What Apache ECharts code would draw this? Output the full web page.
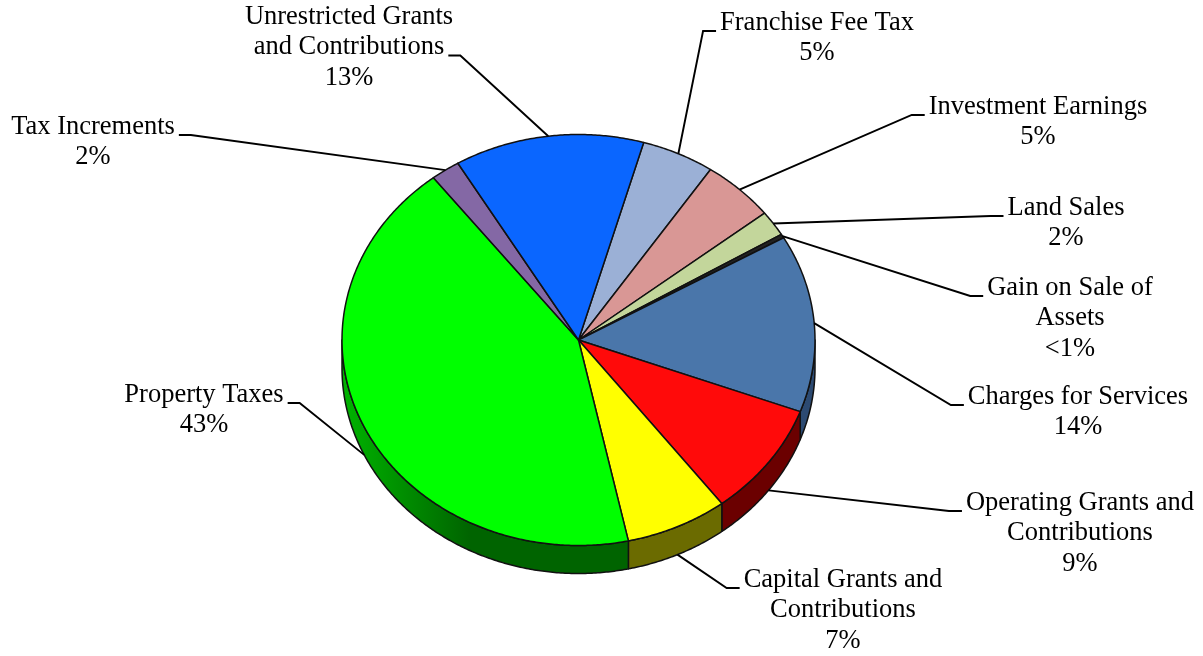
<!DOCTYPE html>
<html>
<head>
<meta charset="utf-8">
<title>Revenues by Source</title>
<script src="https://cdn.jsdelivr.net/npm/echarts@6/dist/echarts.min.js"></script>
<style>
  html, body { margin: 0; padding: 0; background: #ffffff; }
  #chart { width: 1203px; height: 656px; }
</style>
</head>
<body>
<div id="chart"></div>
<script>
// Revenue sources, listed clockwise starting from the Franchise Fee Tax wedge
const categories = [
  'Franchise Fee Tax', 'Investment Earnings', 'Land Sales', 'Gain on Sale of Assets',
  'Charges for Services', 'Operating Grants and Contributions', 'Capital Grants and Contributions',
  'Property Taxes', 'Tax Increments', 'Unrestricted Grants and Contributions'
];
// How each category name is broken over lines in its label
const labelLines = [
  ['Franchise Fee Tax'], ['Investment Earnings'], ['Land Sales'], ['Gain on Sale of', 'Assets'],
  ['Charges for Services'], ['Operating Grants and', 'Contributions'], ['Capital Grants and', 'Contributions'],
  ['Property Taxes'], ['Tax Increments'], ['Unrestricted Grants', 'and Contributions']
];
// Share of total revenue, percent
const shares = [5, 5, 2, 0.3, 14, 9, 7, 43, 2, 13];

// Top-face and side-wall colours per wedge
const faceColors = ['#9bb0d6', '#d99795', '#c3d69b', '#222222', '#4a76aa', '#ff0a0a', '#ffff00', '#00ff00', '#8468a5', '#0a66ff'];
const wallColors = ['#5a6e8f', '#8f5b5a', '#7c8c5c', '#111111', '#2c4a72', '#6b0000', '#6b6b00',
  { type: 'linear', x: 342, y: 0, x2: 470, y2: 0, global: true,
    colorStops: [{ offset: 0, color: '#00b400' }, { offset: 1, color: '#006400' }] },
  '#4e3b66', '#06409f'];

// Tilted pie geometry (pixels) and where the first wedge begins (degrees clockwise from 12 o'clock)
const pie = { cx: 578.5, cy: 340, rx: 236.5, ry: 205.5, depth: 28, startDeg: 16 };
// Label placement: centre x of the text block, centre y of its first line, line the leader meets
const labelPlace = [
  [817, 23, 0], [1038, 107, 0], [1066, 208, 0], [1070, 288, 0], [1078, 397, 0],
  [1080, 503, 0], [843, 580, 0], [204, 395, 0], [93, 127, 0], [349, 17, 1]
];
const FONT = '26.5px "Liberation Serif", "Times New Roman", serif';
const LINE_H = 30.5;

const total = shares.reduce((a, b) => a + b, 0);
const spans = shares.map(v => v / total * 360);
const starts = [];
spans.reduce((acc, s) => { starts.push(acc); return acc + s; }, pie.startDeg);

const measureCtx = document.createElement('canvas').getContext('2d');
measureCtx.font = FONT;
const textWidth = t => measureCtx.measureText(t).width;

function pt(deg, dy) {
  const r = deg * Math.PI / 180;
  return [pie.cx + pie.rx * Math.sin(r), pie.cy - pie.ry * Math.cos(r) + (dy || 0)];
}
function arc(d0, d1, dy) {
  const n = Math.max(2, Math.ceil(Math.abs(d1 - d0) / 0.5));
  const out = [];
  for (let i = 0; i <= n; i++) out.push(pt(d0 + (d1 - d0) * i / n, dy));
  return out;
}
const pctText = v => (v < 1 ? '<1%' : Math.round(v) + '%');

function renderItem(params, api) {
  const i = params.dataIndex;
  const value = api.value(0);
  const d0 = starts[i], d1 = d0 + spans[i];
  const children = [];

  // visible side wall (front half of the disc)
  const w0 = Math.max(d0, 90), w1 = Math.min(d1, 270);
  if (w1 > w0) {
    children.push({
      type: 'polygon', z2: 1,
      shape: { points: arc(w0, w1, 0).concat(arc(w1, w0, pie.depth)) },
      style: { fill: wallColors[i], stroke: '#111', lineWidth: 1.5, lineJoin: 'round' }
    });
  }
  // top face
  children.push({
    type: 'polygon', z2: 2,
    shape: { points: [[pie.cx, pie.cy]].concat(arc(d0, d1, 0)) },
    style: { fill: faceColors[i], stroke: '#111', lineWidth: 1.5, lineJoin: 'round' }
  });

  // label with leader line
  const mid = (d0 + d1) / 2;
  const front = Math.cos(mid * Math.PI / 180) < 0;
  const p = pt(mid, front ? pie.depth : 0);
  const [lx, ly, k] = labelPlace[i];
  const lines = labelLines[i].concat([pctText(value)]);
  const attachY = ly + k * LINE_H + 8;
  const w = textWidth(lines[k]);
  let elbow;
  if (lx > p[0]) {
    const edge = lx - w / 2;
    elbow = [[edge - 17, attachY], [edge - 4, attachY]];
  } else {
    const edge = lx + w / 2;
    elbow = [[edge + 16, attachY], [edge + 4, attachY]];
  }
  children.push({
    type: 'polyline', z2: 3,
    shape: { points: [p].concat(elbow) },
    style: { stroke: '#000', lineWidth: 1.9, fill: null }
  });
  lines.forEach((t, j) => {
    children.push({
      type: 'text', z2: 4,
      style: {
        text: t, x: lx, y: ly + j * LINE_H, font: FONT, fill: '#000',
        align: 'center', verticalAlign: 'middle'
      }
    });
  });
  return { type: 'group', children };
}

const chart = echarts.init(document.getElementById('chart'), null, { renderer: 'canvas' });
chart.setOption({
  backgroundColor: '#ffffff',
  animation: false,
  series: [{
    type: 'custom',
    coordinateSystem: 'none',
    silent: true,
    renderItem,
    data: shares.map((v, i) => ({ name: categories[i], value: [v] }))
  }]
});
</script>
</body>
</html>
